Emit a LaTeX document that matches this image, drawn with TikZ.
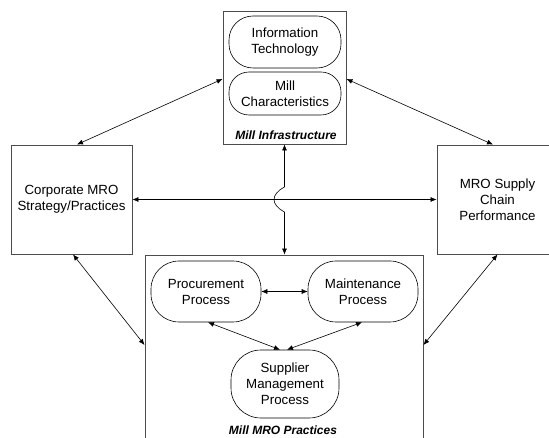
\documentclass[tikz,border=0pt]{standalone}
\usepackage{fontspec}
\setmainfont{Liberation Sans}
\usetikzlibrary{arrows.meta,calc}
\begin{document}
\begin{tikzpicture}[x=1pt,y=-1pt,
  every node/.style={font=\fontsize{13.3}{16}\selectfont},
  outerbox/.style={draw=black!70,line width=0.9pt,inner sep=0pt,align=center},
  pill/.style={draw=black,line width=0.6pt,inner sep=0pt,align=center},
  lbl/.style={font=\fontsize{12}{14}\selectfont\bfseries\itshape,inner sep=0pt},
  conn/.style={line width=0.6pt,{Latex[length=6pt,width=5pt]}-{Latex[length=6pt,width=5pt]}}]
\clip (0,0) rectangle (549,438);
% outer boxes
\node[outerbox,minimum width=123pt,minimum height=133pt] (top) at (284.5,77.5) {};
\node[outerbox,minimum width=121pt,minimum height=109pt] (left) at (71.5,199.5) {Corporate MRO\\Strategy/Practices};
\node[outerbox,minimum width=121pt,minimum height=109pt] (right) at (497.5,199.5) {MRO Supply\\Chain\\Performance};
\node[outerbox,minimum width=278pt,minimum height=195pt] (bot) at (284,352.5) {};
% pills
\node[pill,minimum width=112pt,minimum height=52pt,rounded corners=24pt] (it) at (285,42) {Information\\Technology};
\node[pill,minimum width=112pt,minimum height=43pt,rounded corners=20pt] (mc) at (285,93.5) {Mill\\Characteristics};
\node[pill,minimum width=110pt,minimum height=61pt,rounded corners=28pt] (proc) at (206,291.5) {Procurement\\Process};
\node[pill,minimum width=110pt,minimum height=61pt,rounded corners=28pt] (maint) at (363,291.5) {Maintenance\\Process};
\node[pill,minimum width=108pt,minimum height=68pt,rounded corners=30pt] (supp) at (285,384) {Supplier\\Management\\Process};
% labels
\node[lbl] (infl) at (286,135) {Mill Infrastructure};
\node[lbl] (mrol) at (283,430) {Mill MRO Practices};
% connectors
\draw[conn] ([xshift=5.5pt]left.north) -- ([yshift=-1.5pt]top.west);
\draw[conn] ([yshift=-1.5pt]top.east) -- ([xshift=-4.5pt]right.north);
\draw[conn] ([xshift=1.5pt]left.south) -- ([yshift=7.5pt]bot.west);
\draw[conn] (right.south) -- ([yshift=7.5pt]bot.east);
\draw[conn] (left.east) -- (right.west);
\coordinate (jump) at (top.south |- left.east);
\draw[conn] (top.south) -- ($(jump)+(0,-12.5)$)
  .. controls ($(jump)+(-14,-5)$) and ($(jump)+(-14,5)$) .. ($(jump)+(0,12.5)$)
  -- (top.south |- bot.north);
\draw[conn] (proc.east) -- (maint.west);
\draw[conn] ([xshift=2pt]proc.south) -- ([xshift=-5pt]supp.north);
\draw[conn] ([xshift=-1pt]maint.south) -- ([xshift=2pt]supp.north);
\end{tikzpicture}
\end{document}
